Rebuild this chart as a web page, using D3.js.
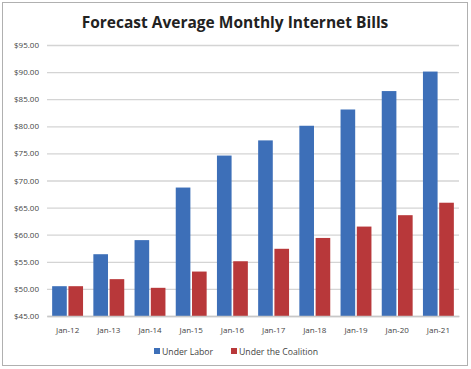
<!DOCTYPE html>
<html>
<head>
<meta charset="utf-8">
<script src="https://cdn.jsdelivr.net/npm/d3@7"></script>
<style>
  body { margin: 0; background: #fff; }
  text { font-family: "Open Sans", "DejaVu Sans", sans-serif; }
</style>
</head>
<body>
<svg id="chart" width="471" height="369"></svg>
<script>
// Chart data
const categories = ["Jan-12", "Jan-13", "Jan-14", "Jan-15", "Jan-16", "Jan-17", "Jan-18", "Jan-19", "Jan-20", "Jan-21"];
const seriesNames = ["Under Labor", "Under the Coalition"];
const laborValues = [50.5, 56.4, 59.0, 68.7, 74.6, 77.4, 80.1, 83.1, 86.5, 90.1];
const coalitionValues = [50.5, 51.8, 50.2, 53.2, 55.1, 57.4, 59.4, 61.5, 63.6, 65.9];
const yTicks = [45, 50, 55, 60, 65, 70, 75, 80, 85, 90, 95];
const colors = ["#3d6fb8", "#b8383a"];

const svg = d3.select("#chart");

// Outer border
svg.append("rect")
    .attr("x", 2.5).attr("y", 2.5)
    .attr("width", 465).attr("height", 363)
    .attr("fill", "#fff")
    .attr("stroke", "#b0b0b0");

// Title
svg.append("text")
    .attr("x", 235).attr("y", 28)
    .attr("text-anchor", "middle")
    .attr("font-size", "15.5px")
    .attr("font-weight", "bold")
    .attr("fill", "#222")
    .text("Forecast Average Monthly Internet Bills");

const plotLeft = 47, plotRight = 459, plotTop = 45, plotBottom = 316;

const y = d3.scaleLinear().domain([45, 95]).range([plotBottom, plotTop]);
const x = d3.scaleBand().domain(categories).range([plotLeft, plotRight]).paddingInner(0.25).paddingOuter(0.125);
const xInner = d3.scaleBand().domain(seriesNames).range([0, x.bandwidth()]).paddingInner(0.1);

// Gridlines + y labels
const yAxis = d3.axisLeft(y)
    .tickValues(yTicks)
    .tickSize(-(plotRight - plotLeft))
    .tickPadding(8)
    .tickFormat(d => "$" + d3.format(".2f")(d));

svg.append("g")
    .attr("transform", `translate(${plotLeft},0)`)
    .call(yAxis)
    .call(g => g.select(".domain").remove())
    .call(g => g.selectAll(".tick line").attr("stroke", "#d4d4d4").attr("stroke-width", 1.3))
    .call(g => g.selectAll(".tick text").attr("font-size", "8px").attr("fill", "#444"));

// Bars
const rows = categories.map((c, i) => ({ cat: c, vals: [laborValues[i], coalitionValues[i]] }));

const groups = svg.selectAll(".cat")
    .data(rows)
    .enter().append("g")
    .attr("class", "cat")
    .attr("transform", d => `translate(${x(d.cat)},0)`);

groups.selectAll("rect")
    .data(d => d.vals.map((v, j) => ({ name: seriesNames[j], value: v, j })))
    .enter().append("rect")
    .attr("x", d => xInner(d.name))
    .attr("width", xInner.bandwidth())
    .attr("y", d => y(d.value))
    .attr("height", d => y(45) - y(d.value))
    .attr("fill", d => colors[d.j]);

// X axis
svg.append("g")
    .attr("transform", `translate(0,${plotBottom})`)
    .call(d3.axisBottom(x).tickSize(0).tickPadding(11))
    .call(g => g.select(".domain").attr("stroke", "#c8c8c8").attr("stroke-width", 1.3))
    .call(g => g.selectAll(".tick text").attr("font-size", "8px").attr("fill", "#444"));

// Legend
const legendX = [154, 231];
const legend = svg.selectAll(".legend")
    .data(seriesNames)
    .enter().append("g")
    .attr("class", "legend")
    .attr("transform", (d, i) => `translate(${legendX[i]},355)`);

legend.append("rect")
    .attr("x", 0).attr("y", -7)
    .attr("width", 6).attr("height", 6)
    .attr("fill", (d, i) => colors[i]);

legend.append("text")
    .attr("x", 8).attr("y", 0)
    .attr("font-size", "8.7px")
    .attr("fill", "#444")
    .text(d => d);
</script>
</body>
</html>
